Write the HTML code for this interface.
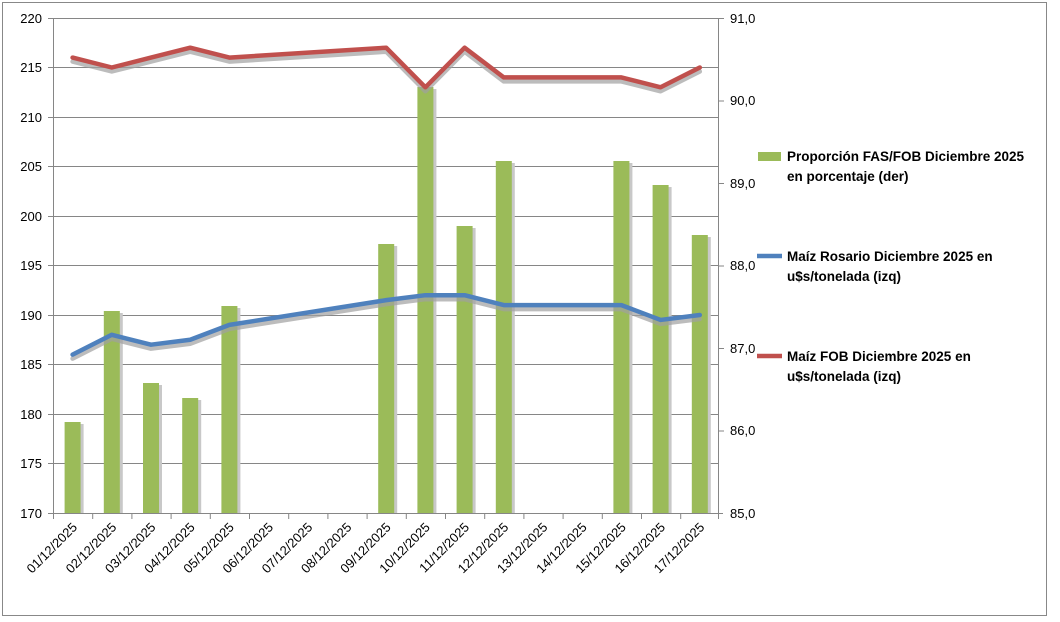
<!DOCTYPE html>
<html><head><meta charset="utf-8"><style>
body{margin:0;background:#fff}
svg{display:block;font-family:"Liberation Sans",sans-serif}
</style></head><body>
<svg width="1060" height="622" viewBox="0 0 1060 622">
<rect x="2.5" y="2.5" width="1044" height="613" fill="#fff" stroke="#888"/>
<g stroke="#868686" stroke-width="1">
<line x1="53" y1="18.5" x2="719" y2="18.5"/><line x1="53" y1="67.5" x2="719" y2="67.5"/><line x1="53" y1="117.5" x2="719" y2="117.5"/><line x1="53" y1="166.5" x2="719" y2="166.5"/><line x1="53" y1="216.5" x2="719" y2="216.5"/><line x1="53" y1="265.5" x2="719" y2="265.5"/><line x1="53" y1="315.5" x2="719" y2="315.5"/><line x1="53" y1="364.5" x2="719" y2="364.5"/><line x1="53" y1="414.5" x2="719" y2="414.5"/><line x1="53" y1="463.5" x2="719" y2="463.5"/>
</g>
<g fill="#c8c8c8">
<rect x="67.6" y="424" width="16" height="89"/><rect x="106.8" y="313" width="16" height="200"/><rect x="146" y="385" width="16" height="128"/><rect x="185.2" y="400" width="16" height="113"/><rect x="224.4" y="308" width="16" height="205"/><rect x="381.2" y="246" width="16" height="267"/><rect x="420.4" y="89" width="16" height="424"/><rect x="459.6" y="228" width="16" height="285"/><rect x="498.8" y="163" width="16" height="350"/><rect x="616.4" y="163" width="16" height="350"/><rect x="655.6" y="187" width="16" height="326"/><rect x="694.8" y="237" width="16" height="276"/>
</g>
<g fill="#9bbb59">
<rect x="64.6" y="422" width="16" height="91"/><rect x="103.8" y="311" width="16" height="202"/><rect x="143" y="383" width="16" height="130"/><rect x="182.2" y="398" width="16" height="115"/><rect x="221.4" y="306" width="16" height="207"/><rect x="378.2" y="244" width="16" height="269"/><rect x="417.4" y="87" width="16" height="426"/><rect x="456.6" y="226" width="16" height="287"/><rect x="495.8" y="161" width="16" height="352"/><rect x="613.4" y="161" width="16" height="352"/><rect x="652.6" y="185" width="16" height="328"/><rect x="691.8" y="235" width="16" height="278"/>
</g>
<g fill="none" stroke-width="4.5" stroke-linejoin="round" stroke-linecap="round">
<polyline stroke="#a0a0a0" opacity="0.7" transform="translate(0,4)" points="72.6,354.6 111.8,334.8 151,344.7 190.2,339.75 229.4,324.9 386.2,300.15 425.4,295.2 464.6,295.2 503.8,305.1 543,305.1 582.2,305.1 621.4,305.1 660.6,319.95 699.8,315"/>
<polyline stroke="#a0a0a0" opacity="0.7" transform="translate(0,4)" points="72.6,57.6 111.8,67.5 151,57.6 190.2,47.7 229.4,57.6 386.2,47.7 425.4,87.3 464.6,47.7 503.8,77.4 543,77.4 582.2,77.4 621.4,77.4 660.6,87.3 699.8,67.5"/>
<polyline stroke="#4f81bd" points="72.6,354.6 111.8,334.8 151,344.7 190.2,339.75 229.4,324.9 386.2,300.15 425.4,295.2 464.6,295.2 503.8,305.1 543,305.1 582.2,305.1 621.4,305.1 660.6,319.95 699.8,315"/>
<polyline stroke="#c0504d" points="72.6,57.6 111.8,67.5 151,57.6 190.2,47.7 229.4,57.6 386.2,47.7 425.4,87.3 464.6,47.7 503.8,77.4 543,77.4 582.2,77.4 621.4,77.4 660.6,87.3 699.8,67.5"/>
</g>
<g stroke="#868686">
<line x1="53.5" y1="18" x2="53.5" y2="513"/><line x1="718.5" y1="18" x2="718.5" y2="513"/><line x1="48" y1="513.5" x2="723" y2="513.5"/>
<path d="M53.5 513v6M92.7 513v6M131.9 513v6M171.1 513v6M210.3 513v6M249.5 513v6M288.7 513v6M327.9 513v6M367.1 513v6M406.3 513v6M445.5 513v6M484.7 513v6M523.9 513v6M563.1 513v6M602.3 513v6M641.5 513v6M680.7 513v6M718.5 513v6"/>
<path d="M48 18.5h5M48 67.5h5M48 117.5h5M48 166.5h5M48 216.5h5M48 265.5h5M48 315.5h5M48 364.5h5M48 414.5h5M48 463.5h5"/>
<path d="M719 18.5h5M719 101h5M719 183.5h5M719 266h5M719 348.5h5M719 431h5"/>
</g>
<g font-size="13" fill="#000" text-anchor="end">
<text x="42" y="23">220</text><text x="42" y="72">215</text><text x="42" y="122">210</text><text x="42" y="171">205</text><text x="42" y="221">200</text><text x="42" y="270">195</text><text x="42" y="320">190</text><text x="42" y="369">185</text><text x="42" y="419">180</text><text x="42" y="468">175</text><text x="42" y="518">170</text>
</g>
<g font-size="13" fill="#000">
<text x="730" y="23">91,0</text><text x="730" y="105">90,0</text><text x="730" y="188">89,0</text><text x="730" y="270">88,0</text><text x="730" y="353">87,0</text><text x="730" y="435">86,0</text><text x="730" y="518">85,0</text>
</g>
<g font-size="13" fill="#000" text-anchor="end">
<text transform="translate(78,528) rotate(-45)">01/12/2025</text>
<text transform="translate(117.2,528) rotate(-45)">02/12/2025</text>
<text transform="translate(156.4,528) rotate(-45)">03/12/2025</text>
<text transform="translate(195.6,528) rotate(-45)">04/12/2025</text>
<text transform="translate(234.8,528) rotate(-45)">05/12/2025</text>
<text transform="translate(274,528) rotate(-45)">06/12/2025</text>
<text transform="translate(313.2,528) rotate(-45)">07/12/2025</text>
<text transform="translate(352.4,528) rotate(-45)">08/12/2025</text>
<text transform="translate(391.6,528) rotate(-45)">09/12/2025</text>
<text transform="translate(430.8,528) rotate(-45)">10/12/2025</text>
<text transform="translate(470,528) rotate(-45)">11/12/2025</text>
<text transform="translate(509.2,528) rotate(-45)">12/12/2025</text>
<text transform="translate(548.4,528) rotate(-45)">13/12/2025</text>
<text transform="translate(587.6,528) rotate(-45)">14/12/2025</text>
<text transform="translate(626.8,528) rotate(-45)">15/12/2025</text>
<text transform="translate(666,528) rotate(-45)">16/12/2025</text>
<text transform="translate(705.2,528) rotate(-45)">17/12/2025</text>
</g>
<rect x="758" y="152" width="23" height="9" fill="#9bbb59"/>
<line x1="757" y1="256" x2="782" y2="256" stroke="#4f81bd" stroke-width="4.5"/>
<line x1="757" y1="356" x2="782" y2="356" stroke="#c0504d" stroke-width="4.5"/>
<g font-size="13.5" font-weight="bold" fill="#000">
<text x="787" y="161">Proporción FAS/FOB Diciembre 2025</text><text x="787" y="181">en porcentaje (der)</text>
<text x="787" y="261">Maíz Rosario Diciembre 2025 en</text><text x="787" y="281">u$s/tonelada (izq)</text>
<text x="787" y="361">Maíz FOB Diciembre 2025 en</text><text x="787" y="381">u$s/tonelada (izq)</text>
</g>
</svg>
</body></html>
